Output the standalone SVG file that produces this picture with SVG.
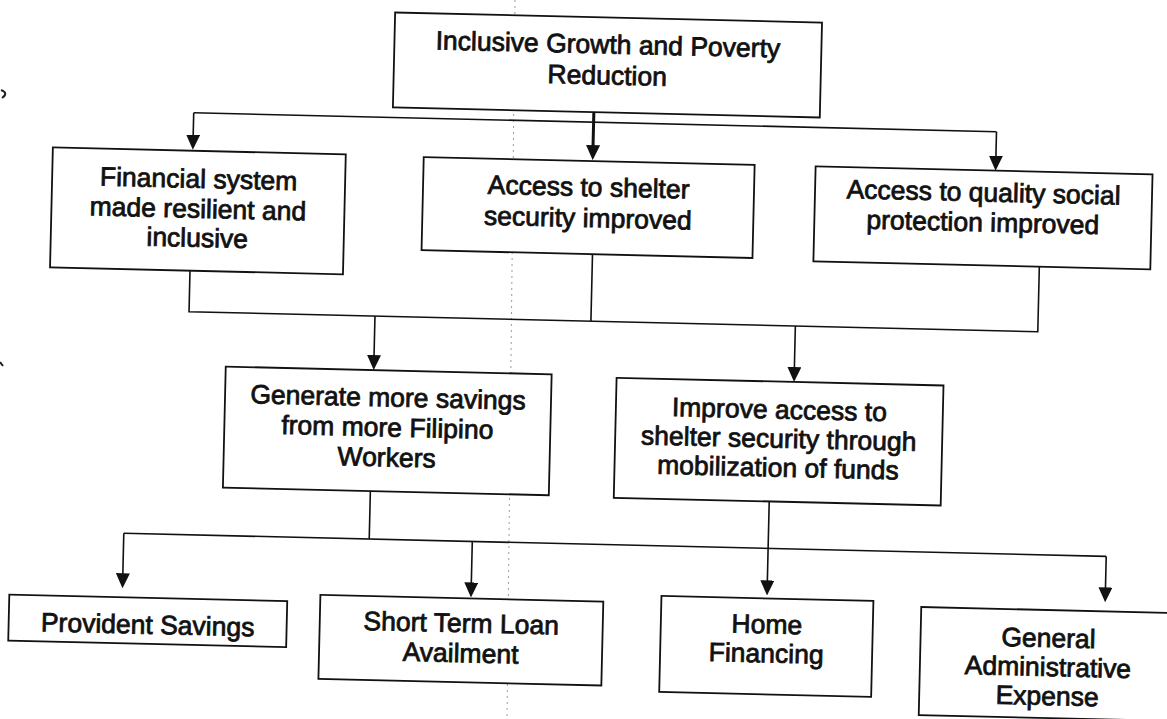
<svg xmlns="http://www.w3.org/2000/svg" width="1167" height="719" viewBox="0 0 1167 719">
  <style>
    .box { fill: #fff; stroke: #111; stroke-width: 1.8; }
    .t { font-family: "Liberation Sans", Arial, sans-serif; font-size: 26.5px; text-anchor: middle; fill: #111; stroke: #111; stroke-width: 0.8; }
    .ln { fill: none; stroke: #111; stroke-width: 1.6; }
    .thick { stroke-width: 3; }
    .fold { fill: none; stroke: #9a9a9a; stroke-width: 1; stroke-dasharray: 2 4; }
  </style>
  <defs>
    <marker id="arrow" viewBox="0 0 15 14" refX="9" refY="7" markerWidth="15" markerHeight="14" markerUnits="userSpaceOnUse" orient="auto">
      <path d="M0,0 L15,7 L0,14 Z" fill="#111"/>
    </marker>
  </defs>
  <rect width="1167" height="719" fill="#fff"/>

  <!-- fold line of the page -->
  <path class="fold" d="M515,0 L507,719"/>
  <!-- small marks at the page edge -->
  <path d="M1,90 Q9,93 2,98" fill="none" stroke="#222" stroke-width="2"/>
  <path d="M0,362 L3,366" fill="none" stroke="#222" stroke-width="2"/>

  <!-- the printed chart sits slightly turned on the page -->
  <g transform="rotate(1.35 583 360)">
    <g id="connectors">
      <path class="ln thick" d="M588,112 V154" marker-end="url(#arrow)"/>
      <path class="ln" d="M188,122 H991"/>
      <path class="ln" d="M188,122 V153" marker-end="url(#arrow)"/>
      <path class="ln" d="M991,122 V155" marker-end="url(#arrow)"/>
      <path class="ln" d="M188,280 V321 H1037 V256"/>
      <path class="ln" d="M590,254 V321"/>
      <path class="ln" d="M374,321 V369" marker-end="url(#arrow)"/>
      <path class="ln" d="M794.5,321 V371" marker-end="url(#arrow)"/>
      <path class="ln" d="M373.5,496 V544"/>
      <path class="ln" d="M128,544 H1110.7"/>
      <path class="ln" d="M128,544 V593" marker-end="url(#arrow)"/>
      <path class="ln" d="M476.6,544 V594" marker-end="url(#arrow)"/>
      <path class="ln" d="M1110.7,544 V584" marker-end="url(#arrow)"/>
      <path class="ln" d="M772.5,497 V585" marker-end="url(#arrow)"/>
    </g>

    <g id="n-goal">
      <rect class="box" x="387" y="17" width="427" height="95"/>
      <text class="t" x="600.5" y="53">Inclusive Growth and Poverty</text>
      <text class="t" x="600.5" y="84">Reduction</text>
    </g>
    <g id="n-financial">
      <rect class="box" x="48" y="160" width="293" height="120"/>
      <text class="t" x="194.5" y="197">Financial system</text>
      <text class="t" x="194.5" y="227">made resilient and</text>
      <text class="t" x="194.5" y="256">inclusive</text>
    </g>
    <g id="n-shelter">
      <rect class="box" x="419" y="161" width="331" height="93"/>
      <text class="t" x="584.5" y="196">Access to shelter</text>
      <text class="t" x="584.5" y="227">security improved</text>
    </g>
    <g id="n-social">
      <rect class="box" x="811" y="161" width="337" height="95"/>
      <text class="t" x="979.5" y="192">Access to quality social</text>
      <text class="t" x="979.5" y="222">protection improved</text>
    </g>
    <g id="n-savings">
      <rect class="box" x="226" y="375" width="326" height="121"/>
      <text class="t" x="389" y="411">Generate more savings</text>
      <text class="t" x="389" y="441">from more Filipino</text>
      <text class="t" x="389" y="471">Workers</text>
    </g>
    <g id="n-funds">
      <rect class="box" x="617" y="377" width="327" height="120"/>
      <text class="t" x="780.5" y="414">Improve access to</text>
      <text class="t" x="780.5" y="443">shelter security through</text>
      <text class="t" x="780.5" y="472">mobilization of funds</text>
    </g>
    <g id="n-provident">
      <rect class="box" x="15" y="608" width="278" height="46"/>
      <text class="t" x="154" y="644">Provident Savings</text>
    </g>
    <g id="n-loan">
      <rect class="box" x="326" y="601" width="283" height="84"/>
      <text class="t" x="467.5" y="635">Short Term Loan</text>
      <text class="t" x="467.5" y="665">Availment</text>
    </g>
    <g id="n-home">
      <rect class="box" x="667" y="594" width="212" height="96"/>
      <text class="t" x="773" y="629">Home</text>
      <text class="t" x="773" y="658">Financing</text>
    </g>
    <g id="n-admin">
      <rect class="box" x="927" y="599" width="256" height="108"/>
      <text class="t" x="1055" y="636">General</text>
      <text class="t" x="1055" y="665">Administrative</text>
      <text class="t" x="1055" y="694">Expense</text>
    </g>
  </g>
</svg>
